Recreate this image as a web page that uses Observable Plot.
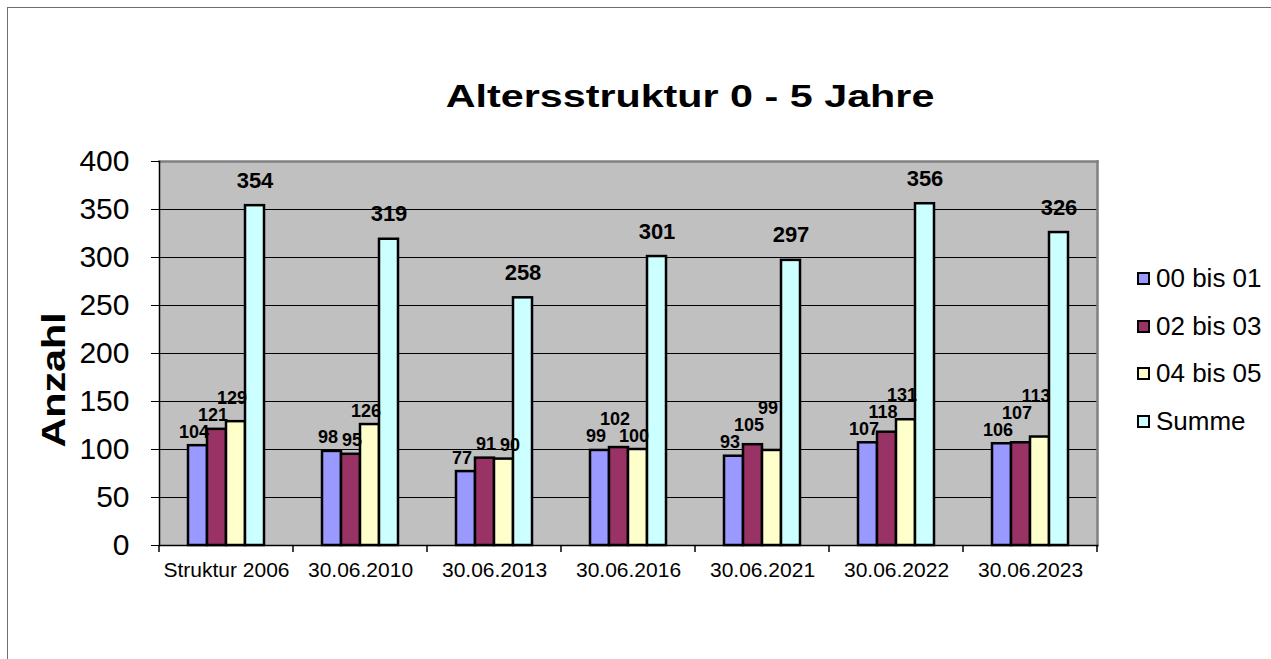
<!DOCTYPE html>
<html>
<head>
<meta charset="utf-8">
<script src="https://cdn.jsdelivr.net/npm/d3@7"></script>
<script src="https://cdn.jsdelivr.net/npm/@observablehq/plot@0.6"></script>
<style>
  html, body { margin: 0; padding: 0; background: #fff; }
  body { font-family: Arial, "Liberation Sans", sans-serif; }
  #wrap { position: relative; width: 1271px; height: 659px; overflow: hidden; }
  #border { position: absolute; left: 7px; top: 7px; width: 1320px; height: 720px; border: 1.5px solid #6e6e6e; box-sizing: border-box; }
  #chart { position: absolute; left: 0; top: 0; }
  #title { position: absolute; left: 390px; width: 600px; top: 76px; text-align: center; font-weight: bold; font-size: 32px; line-height: 40px; color: #000; transform: scaleX(1.29); transform-origin: 300px 50%; white-space: nowrap; }
  #ylabel { position: absolute; left: 53px; top: 380px; font-weight: bold; font-size: 33px; line-height: 33px; white-space: nowrap; transform: translate(-50%, -50%) rotate(-90deg) scaleX(1.25); color: #000; }
  #legend { position: absolute; left: 1137px; top: 0; }
  .lg { position: absolute; left: 0; display: flex; align-items: center; white-space: nowrap; font-size: 26px; line-height: 30px; height: 30px; }
  .sw { width: 13px; height: 13px; border: 2px solid #000; box-sizing: border-box; margin-right: 6px; }
</style>
</head>
<body>
<div id="wrap">
  <div id="border"></div>
  <div id="chart"></div>
  <div id="title">Altersstruktur 0 - 5 Jahre</div>
  <div id="ylabel">Anzahl</div>
  <div id="legend"></div>
</div>
<script>
// ---- data ----
const categories = ["Struktur 2006", "30.06.2010", "30.06.2013", "30.06.2016", "30.06.2021", "30.06.2022", "30.06.2023"];
const seriesNames = ["00 bis 01", "02 bis 03", "04 bis 05", "Summe"];
const values0001 = [104, 98, 77, 99, 93, 107, 106];
const values0203 = [121, 95, 91, 102, 105, 118, 107];
const values0405 = [129, 126, 90, 100, 99, 131, 113];
const valuesSumme = [354, 319, 258, 301, 297, 356, 326];
const seriesColors = ["#9999FF", "#993366", "#FFFFCC", "#CCFFFF"];
const yTicks = [0, 50, 100, 150, 200, 250, 300, 350, 400];

const seriesValues = [values0001, values0203, values0405, valuesSumme];
const data = categories.flatMap((cat, i) =>
  seriesNames.map((series, j) => ({cat, series, value: seriesValues[j][i]}))
);
const small = data.filter(d => d.series !== "Summe");
const sums = data.filter(d => d.series === "Summe");

const FONT = 'Arial, "Liberation Sans", sans-serif';

// short category-boundary ticks below the x axis, placed with the fx band scale
const boundaryTicks = Plot.frame({
  facet: "super",
  stroke: null,
  render: (index, scales, values, dims) => {
    const g = d3.create("svg:g");
    const fx = scales.fx;
    const y0 = dims.height - dims.marginBottom;
    let xs;
    if (fx && fx.bandwidth) {
      xs = categories.map(c => fx(c));
      xs.push(fx(categories[categories.length - 1]) + fx.bandwidth());
    } else {
      const w = (dims.width - dims.marginLeft - dims.marginRight) / categories.length;
      xs = d3.range(categories.length + 1).map(i => dims.marginLeft + i * w);
    }
    for (const x of xs) {
      g.append("line").attr("x1", x).attr("x2", x).attr("y1", y0).attr("y2", y0 + 7)
        .attr("stroke", "#000").attr("stroke-width", 1.5);
    }
    return g.node();
  }
});

// nudge small value labels so that neighbouring labels don't collide (like the spreadsheet does)
function avoidOverlap(index, scales, values, dims, ctx, next) {
  const X = Array.from(values.x), Y = Array.from(values.y), T = values.text;
  const charW = 10, lineH = 15, raise = 17, maxShift = 10, gap = 4;
  const placed = [];
  for (const i of index) {
    const wi = String(T[i]).length * charW;
    for (let guard = 0; guard < 10; guard++) {
      let moved = false;
      for (const j of placed) {
        const wj = String(T[j]).length * charW;
        const need = (wi + wj) / 2 + gap;
        const dxp = X[i] - X[j];
        if (Math.abs(dxp) < need && Math.abs(Y[i] - Y[j]) < lineH) {
          const deficit = need - Math.abs(dxp);
          if (deficit <= maxShift && dxp > 0 && wi + wj <= 4 * charW) X[i] += deficit;
          else Y[i] = Y[j] - raise;
          moved = true;
        }
      }
      if (!moved) break;
    }
    placed.push(i);
  }
  return next(index, scales, {...values, x: X, y: Y}, dims, ctx);
}

const chart = Plot.plot({
  width: 1271,
  height: 659,
  marginLeft: 158,
  marginRight: 173,
  marginTop: 161,
  marginBottom: 114,
  style: {fontFamily: FONT, background: "transparent", color: "#000", overflow: "visible"},
  fx: {domain: categories, padding: 0, label: null, axis: null},
  x: {domain: seriesNames, paddingInner: 0, paddingOuter: 1.48, axis: null},
  y: {domain: [0, 400], axis: null},
  color: {domain: seriesNames, range: seriesColors},
  marks: [
    Plot.frame({facet: "super", fill: "#C0C0C0", stroke: null}),
    Plot.ruleY(yTicks.filter(t => t > 0 && t < 400), {stroke: "#000", strokeWidth: 1}),
    Plot.frame({facet: "super", anchor: "top", stroke: "#808080", strokeWidth: 2.5}),
    Plot.frame({facet: "super", anchor: "right", stroke: "#808080", strokeWidth: 2.5}),
    Plot.frame({facet: "super", anchor: "left", stroke: "#000", strokeWidth: 1.5}),
    Plot.frame({facet: "super", anchor: "bottom", stroke: "#000", strokeWidth: 1.5}),
    Plot.axisY({ticks: yTicks, tickSize: 8, tickPadding: 22, fontSize: 30, label: null, tickFormat: d => String(d)}),
    boundaryTicks,
    Plot.barY(data, {fx: "cat", x: "series", y: "value", fill: "series", stroke: "#000", strokeWidth: 2.5}),
    Plot.text(small, {fx: "cat", x: "series", y: "value", text: d => String(d.value), lineAnchor: "bottom", dy: -8, dx: -4, fontSize: 18, fontWeight: "bold", fill: "#000", render: avoidOverlap}),
    Plot.text(sums, {fx: "cat", x: "series", y: "value", text: d => String(d.value), lineAnchor: "bottom", dy: -18, fontSize: 22, fontWeight: "bold", fill: "#000"}),
    Plot.axisFx({anchor: "bottom", tickSize: 0, tickPadding: 17, fontSize: 21, label: null})
  ]
});
document.getElementById("chart").appendChild(chart);

// legend
const legendRowsY = [278, 326, 373, 421];
const legend = document.getElementById("legend");
seriesNames.forEach((name, j) => {
  const row = document.createElement("div");
  row.className = "lg";
  row.style.top = (legendRowsY[j] - 15) + "px";
  const sw = document.createElement("div");
  sw.className = "sw";
  sw.style.background = seriesColors[j];
  row.appendChild(sw);
  const t = document.createElement("span");
  t.textContent = name;
  row.appendChild(t);
  legend.appendChild(row);
});
</script>
</body>
</html>
